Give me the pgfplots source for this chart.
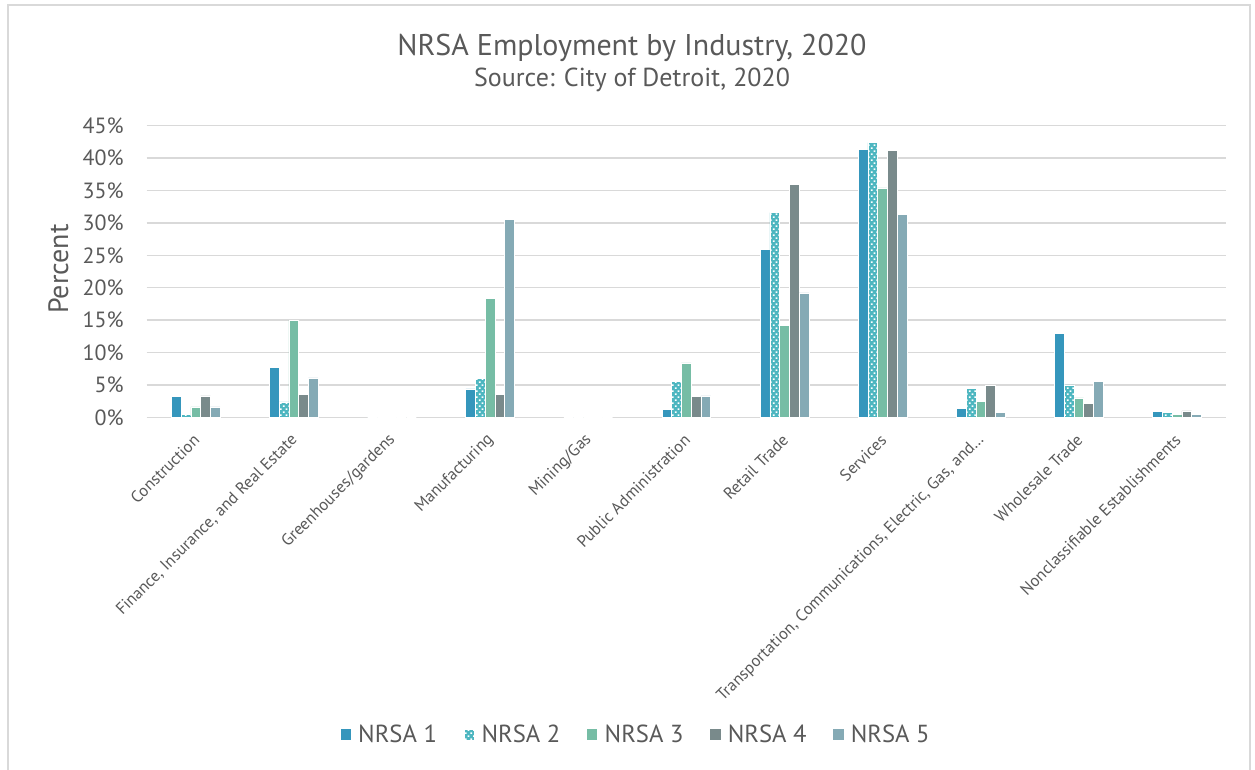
\documentclass[border=0pt]{standalone}
\usepackage{pgfplots}
\pgfplotsset{compat=1.18}
\usepackage{pgfplotstable}
\usepackage{fontspec}
\setmainfont{PT Sans}
\usetikzlibrary{patterns}

\definecolor{txt}{HTML}{595959}
\definecolor{gridc}{HTML}{D9D9D9}
\definecolor{cA}{HTML}{3596BC}
\definecolor{cB}{HTML}{4DB6C0}
\definecolor{cC}{HTML}{76BDA5}
\definecolor{cD}{HTML}{798A8B}
\definecolor{cE}{HTML}{85AAB5}

% staggered square dots for NRSA 2
\pgfdeclarepatternformonly{sparsedots}{\pgfqpoint{-1pt}{-1pt}}{\pgfqpoint{5.2pt}{5.5pt}}{\pgfqpoint{4.2pt}{4.5pt}}{
  \pgfpathrectangle{\pgfqpoint{0pt}{0pt}}{\pgfqpoint{1.3pt}{1.3pt}}
  \pgfpathrectangle{\pgfqpoint{2.1pt}{2.25pt}}{\pgfqpoint{1.3pt}{1.3pt}}
  \pgfusepath{fill}}

% share of employment (%) per industry
\pgfplotstableread{
x  n1    n2    n3    n4    n5
0  3.2   0.5   1.6   3.3   1.6
1  7.7   2.4   15.0  3.6   6.1
2  0     0     0     0     0
3  4.4   6.0   18.4  3.6   30.5
4  0     0     0     0     0
5  1.2   5.6   8.4   3.2   3.3
6  25.9  31.6  14.2  36.0  19.2
7  41.4  42.4  35.4  41.2  31.3
8  1.4   4.5   2.5   4.9   0.8
9  12.9  5.0   3.0   2.1   5.6
10 0.9   0.8   0.5   1.0   0.5
}\emp

\begin{document}
\begin{tikzpicture}
\path[use as bounding box] (0pt,0pt) rectangle (941.25pt,577.5pt);
\draw[gridc, line width=0.8pt] (6pt,0pt) -- (6pt,573.75pt) -- (937.5pt,573.75pt) -- (937.5pt,0pt);
\node[font=\fontsize{22.5}{26}\selectfont, text=txt] at (474pt,541.5pt) {NRSA Employment by Industry, 2020};
\node[font=\fontsize{19.5}{23}\selectfont, text=txt] at (474pt,517.5pt) {Source: City of Detroit, 2020};
\begin{axis}[
  at={(110pt,264.5pt)}, anchor=south west,
  scale only axis, width=809.5pt, height=218.7pt,
  xmin=-0.5, xmax=10.5, ymin=0, ymax=45,
  axis line style={draw=none},
  major tick length=0pt,
  xmajorgrids=false, ymajorgrids=true,
  grid style={draw=gridc, line width=1pt},
  ytick={0,5,...,45},
  yticklabel={\pgfmathprintnumber{\tick}\%},
  /pgf/number format/assume math mode=true,
  yticklabel style={font=\fontsize{16.5}{19}\selectfont, text=txt, anchor=east, inner sep=0pt, xshift=-17pt},
  xtick={0,...,10},
  xticklabels={Construction,{Finance, Insurance, and Real Estate},Greenhouses/gardens,Manufacturing,Mining/Gas,Public Administration,Retail Trade,Services,{Transportation, Communications, Electric, Gas, and\ldots},Wholesale Trade,Nonclassifiable Establishments},
  xticklabel style={font=\fontsize{12.4}{14}\selectfont, text=txt, rotate=45, anchor=east, inner sep=0pt, xshift=-10pt, yshift=-11pt},
  ylabel={Percent},
  every axis y label/.style={at={(rel axis cs:-0.0817,0.5086)}, rotate=90, anchor=center, font=\fontsize{21}{25}\selectfont, text=txt},
  ybar=0pt, bar width=7.3pt,
  every axis plot/.append style={draw=white, line width=0.4pt},
  legend style={at={(0.4538,-1.0895)}, anchor=center, draw=none, fill=none,
    font=\fontsize{18.5}{22}\selectfont, text=txt, legend columns=5,
    /tikz/every even column/.append style={column sep=18pt}},
  legend image code/.code={\path[#1, draw=none] (0pt,-4pt) rectangle (7.8pt,4.4pt); \path (11pt,0pt);},
]
\addplot[fill=cA] table[x=x,y=n1] {\emp};
\addplot[fill=cB, postaction={pattern=sparsedots, pattern color=white}] table[x=x,y=n2] {\emp};
\addplot[fill=cC] table[x=x,y=n3] {\emp};
\addplot[fill=cD] table[x=x,y=n4] {\emp};
\addplot[fill=cE] table[x=x,y=n5] {\emp};
\legend{NRSA 1, NRSA 2, NRSA 3, NRSA 4, NRSA 5}
\end{axis}
\end{tikzpicture}
\end{document}
